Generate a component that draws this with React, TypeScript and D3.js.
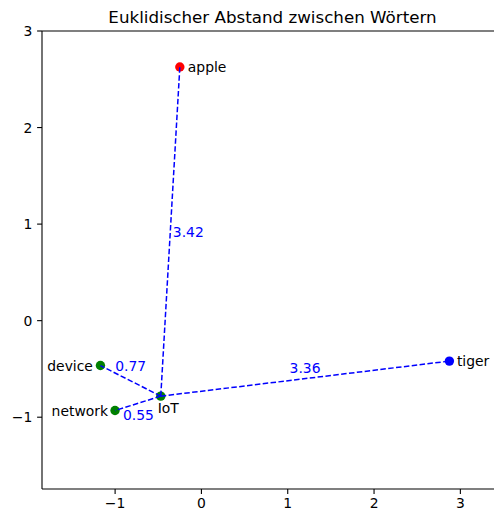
import React from "react";
import * as d3 from "d3";

const words = ["apple", "tiger", "device", "network", "IoT"];
const xs = [-0.25, 2.873, -1.17, -1.001, -0.471];
const ys = [2.627, -0.419, -0.465, -0.931, -0.782];
const pointColors = ["#ff0000", "#0000ff", "#008000", "#008000", "#008000"];

const pairTargets = ["apple", "tiger", "device", "network"];
const pairDistances = ["3.42", "3.36", "0.77", "0.55"];

const xTicks = [-1, 0, 1, 2, 3];
const yTicks = [3, 2, 1, 0, -1];
const title = "Euklidischer Abstand zwischen Wörtern";

const W = 494;
const H = 511;
const FONT = "'DejaVu Sans', sans-serif";
const FS = 13.9;

export default function App() {
  const left = 42, right = 503, top = 31, bottom = 489;
  const x = d3.scaleLinear().domain([-1.847, 3.494]).range([left, right]);
  const y = d3.scaleLinear().domain([-1.7436, 3]).range([bottom, top]);
  const fmt = (v: number) => (v < 0 ? "\u2212" + Math.abs(v) : String(v));

  const idx = (w: string) => words.indexOf(w);
  const hub = idx("IoT");

  const wordStyle: Record<string, [string, number, number]> = {
    apple: ["start", 8, 0],
    tiger: ["start", 7.5, 0],
    device: ["end", -7.5, 0],
    network: ["end", -7, 0],
    IoT: ["start", -3, 12],
  };
  const distStyle: [string, number, number][] = [
    ["start", 2.5, 0.5],
    ["middle", 0, -11],
    ["middle", 0, -15],
    ["middle", 0.5, 12],
  ];

  return (
    <svg width={W} height={H} style={{ display: "block", position: "absolute", left: 0, top: 0 }}>
      <rect width={W} height={H} fill="white" />
      <text x={(left + right) / 2} y={23} textAnchor="middle" fontFamily={FONT} fontSize={16.7} fill="#000">
        {title}
      </text>
      {words.map((w, i) => (
        <circle key={w} cx={x(xs[i])} cy={y(ys[i])} r={4.7} fill={pointColors[i]} />
      ))}
      {pairTargets.map((t) => {
        const j = idx(t);
        return (
          <line
            key={t}
            x1={x(xs[hub])}
            y1={y(ys[hub])}
            x2={x(xs[j])}
            y2={y(ys[j])}
            stroke="#0000ff"
            strokeWidth={1.5}
            strokeDasharray="5.5,2.4"
          />
        );
      })}
      {pairTargets.map((t, k) => {
        const j = idx(t);
        const mx = (x(xs[hub]) + x(xs[j])) / 2;
        const my = (y(ys[hub]) + y(ys[j])) / 2;
        const [anchor, dx, dy] = distStyle[k];
        return (
          <text
            key={t}
            x={mx + dx}
            y={my + dy}
            textAnchor={anchor}
            dominantBaseline="central"
            fontFamily={FONT}
            fontSize={FS}
            fill="#0000ff"
          >
            {pairDistances[k]}
          </text>
        );
      })}
      {words.map((w, i) => {
        const [anchor, dx, dy] = wordStyle[w];
        return (
          <text
            key={w}
            x={x(xs[i]) + dx}
            y={y(ys[i]) + dy}
            textAnchor={anchor}
            dominantBaseline="central"
            fontFamily={FONT}
            fontSize={FS}
            fill="#000"
          >
            {w}
          </text>
        );
      })}
      <line x1={left} x2={left} y1={top} y2={bottom} stroke="#000" strokeWidth={1.1} />
      <line x1={left} x2={right} y1={bottom} y2={bottom} stroke="#000" strokeWidth={1.1} />
      <line x1={left} x2={right} y1={top} y2={top} stroke="#000" strokeWidth={1.1} />
      <line x1={right} x2={right} y1={top} y2={bottom} stroke="#000" strokeWidth={1.1} />
      {xTicks.map((t) => (
        <g key={"x" + t}>
          <line x1={x(t)} x2={x(t)} y1={bottom} y2={bottom + 4.9} stroke="#000" strokeWidth={1.1} />
          <text x={x(t)} y={bottom + 8.5} textAnchor="middle" dominantBaseline="hanging" fontFamily={FONT} fontSize={FS} fill="#000">
            {fmt(t)}
          </text>
        </g>
      ))}
      {yTicks.map((t) => (
        <g key={"y" + t}>
          <line x1={left - 4.9} x2={left} y1={y(t)} y2={y(t)} stroke="#000" strokeWidth={1.1} />
          <text x={left - 9.7} y={y(t)} textAnchor="end" dominantBaseline="central" fontFamily={FONT} fontSize={FS} fill="#000">
            {fmt(t)}
          </text>
        </g>
      ))}
    </svg>
  );
}
